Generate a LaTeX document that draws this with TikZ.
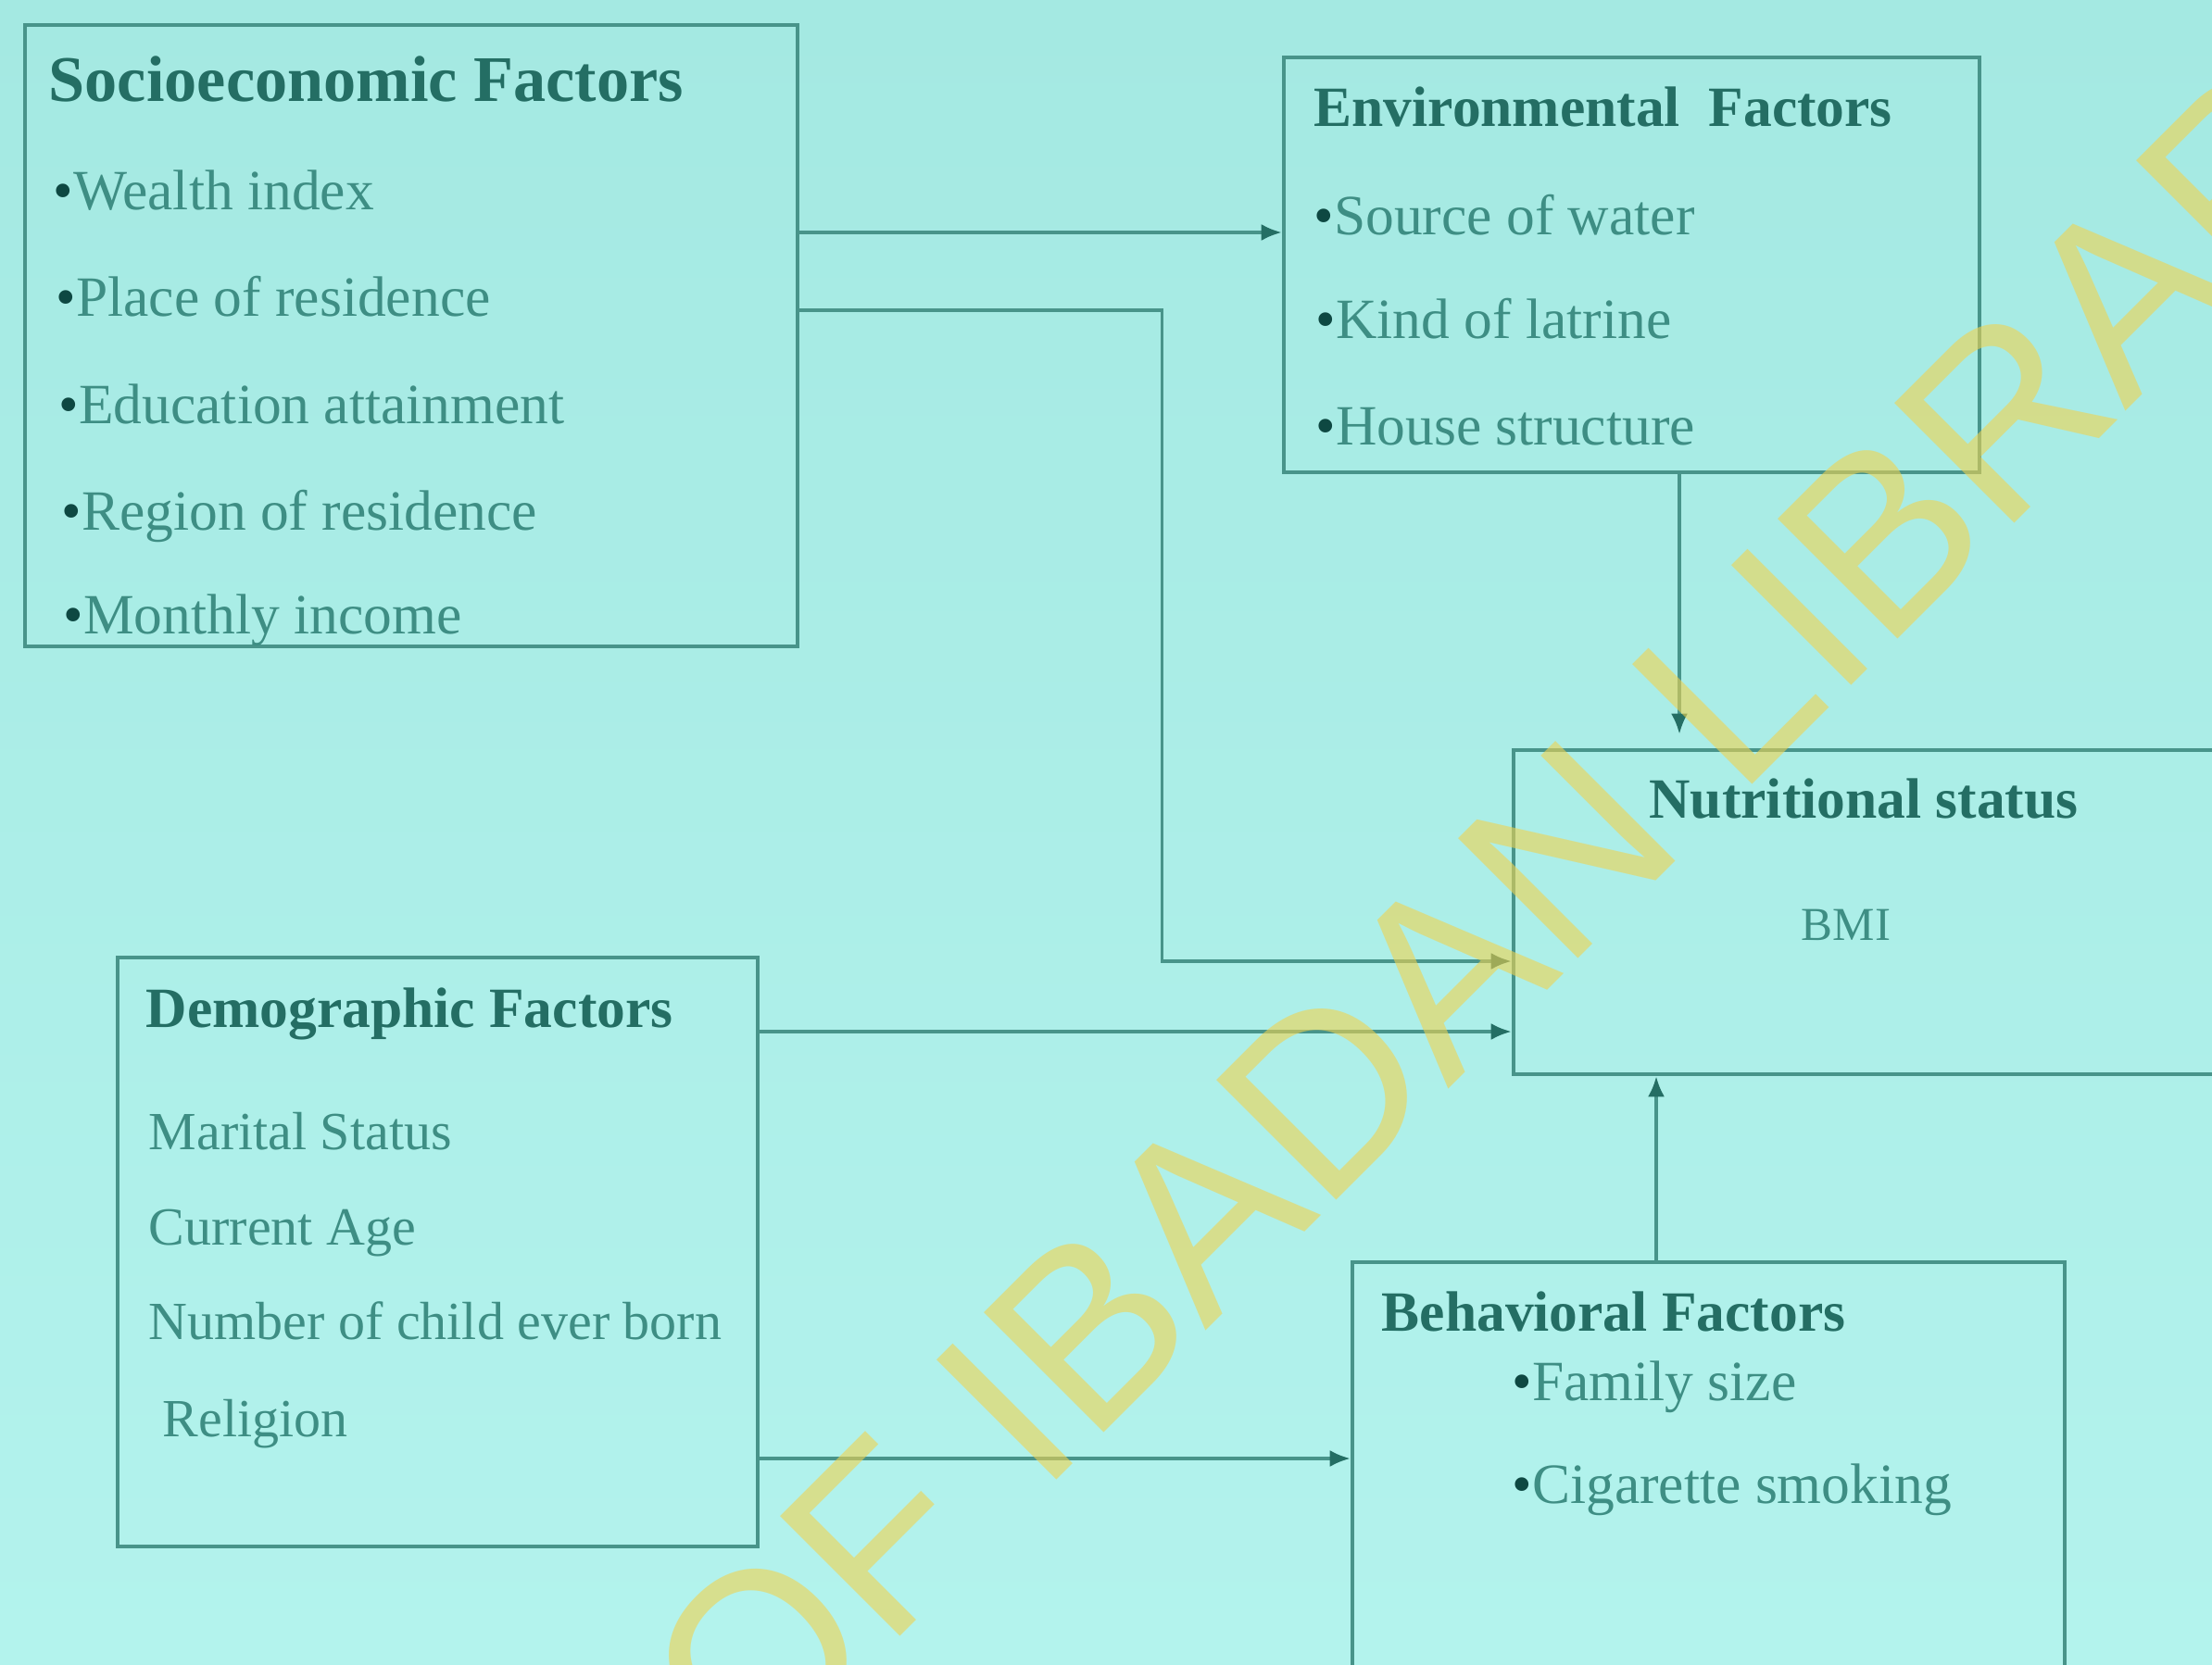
\documentclass[tikz,border=0pt]{standalone}
\usepackage{fontspec}
\setmainfont{Liberation Serif}
\newfontfamily\wmfont{Liberation Sans}
\usetikzlibrary{arrows.meta}
\definecolor{scanbgtop}{RGB}{164,233,226}
\definecolor{scanbgbot}{RGB}{179,243,237}
\definecolor{framecol}{RGB}{72,148,138}
\definecolor{headcol}{RGB}{36,110,100}
\definecolor{itemcol}{RGB}{62,142,132}
\definecolor{bulcol}{RGB}{14,72,66}
\definecolor{wmyellow}{RGB}{240,211,80}
\newcommand{\itembul}{\textcolor{bulcol}{\textbullet}}

\begin{document}
\begin{tikzpicture}[
  box/.style={draw=framecol, line width=1.3pt, inner sep=0pt},
  head/.style={anchor=base west, inner sep=0pt, text=headcol, font=\fontsize{17.5}{21}\selectfont\bfseries},
  entry/.style={anchor=base west, inner sep=0pt, text=itemcol, font=\fontsize{17.5}{21}\selectfont},
  link/.style={draw=framecol, line width=1pt, -{Latex[length=2.2mm,width=1.8mm,color=headcol]}}
]
\useasboundingbox (0,0) rectangle (23.88,17.97);
\clip (0,0) rectangle (23.88,17.97);
\shade[top color=scanbgtop, bottom color=scanbgbot] (0,0) rectangle (23.88,17.97);

% Socioeconomic factors
\node[box, minimum width=8.34cm, minimum height=6.71cm] (socio) at (4.44,14.345) {};
\node[head, font=\fontsize{20}{24}\selectfont\bfseries] (sociohead) at (0.52,16.87) {Socioeconomic Factors};
\node[entry] (wealth) at (0.57,15.70) {\itembul Wealth index};
\node[entry] (place) at (0.60,14.55) {\itembul Place of residence};
\node[entry] (educ) at (0.63,13.40) {\itembul Education attainment};
\node[entry] (region) at (0.66,12.25) {\itembul Region of residence};
\node[entry] (income) at (0.68,11.13) {\itembul Monthly income};

% Environmental factors
\node[box, minimum width=7.51cm, minimum height=4.48cm] (env) at (17.615,15.11) {};
\node[head] (envhead) at (14.18,16.60) {Environmental~~Factors};
\node[entry] (water) at (14.18,15.43) {\itembul Source of water};
\node[entry] (latrine) at (14.20,14.31) {\itembul Kind of latrine};
\node[entry] (house) at (14.20,13.17) {\itembul House structure};

% Nutritional status
\node[box, minimum width=8.26cm, minimum height=3.5cm] (nutr) at (20.47,8.12) {};
\node[head, anchor=base] (nutrhead) at (20.12,9.14) {Nutritional status};
\node[entry, anchor=base, font=\fontsize{14.5}{17}\selectfont] (bmi) at (19.93,7.82) {BMI};

% Demographic factors
\node[box, minimum width=6.91cm, minimum height=6.36cm] (demo) at (4.725,4.45) {};
\node[head] (demohead) at (1.57,6.88) {Demographic Factors};
\node[entry, font=\fontsize{16.5}{20}\selectfont] (marital) at (1.60,5.56) {Marital Status};
\node[entry, font=\fontsize{16.5}{20}\selectfont] (age) at (1.60,4.53) {Current Age};
\node[entry, font=\fontsize{16.5}{20}\selectfont] (children) at (1.60,3.51) {Number of child ever born};
\node[entry, font=\fontsize{16.5}{20}\selectfont] (religion) at (1.75,2.46) {Religion};

% Behavioral factors
\node[box, minimum width=7.69cm, minimum height=4.84cm] (behav) at (18.445,1.92) {};
\node[head] (behavhead) at (14.91,3.60) {Behavioral Factors};
\node[entry] (family) at (16.32,2.85) {\itembul Family size};
\node[entry] (smoking) at (16.32,1.74) {\itembul Cigarette smoking};

% Links
\draw[link] ([yshift=1.115cm]socio.east) -- ([yshift=1.115cm]socio.east -| env.west);
\draw[link] ([yshift=.275cm]socio.east) -- ++(3.91,0) |- ([yshift=-.53cm]nutr.west);
\draw[link] ([yshift=2.38cm]demo.east) -- ([yshift=2.38cm]demo.east -| nutr.west);
\draw[link, shorten >=1.5mm] ([xshift=.515cm]env.south) -- ([xshift=.515cm]env.south |- nutr.north);
\draw[link] ([xshift=-.565cm]behav.north) -- ([xshift=-.565cm]behav.north |- nutr.south);
\draw[link] ([yshift=-2.23cm]demo.east) -- ([yshift=-2.23cm]demo.east -| behav.west);

% Library watermark
\node[rotate=45, anchor=base west, inner sep=0pt, text=wmyellow, text opacity=.6, font=\wmfont\fontsize{75.7}{80}\selectfont] (watermark) at (8.10,-1.32) {OF IBADAN LIBRARY};
\end{tikzpicture}
\end{document}
